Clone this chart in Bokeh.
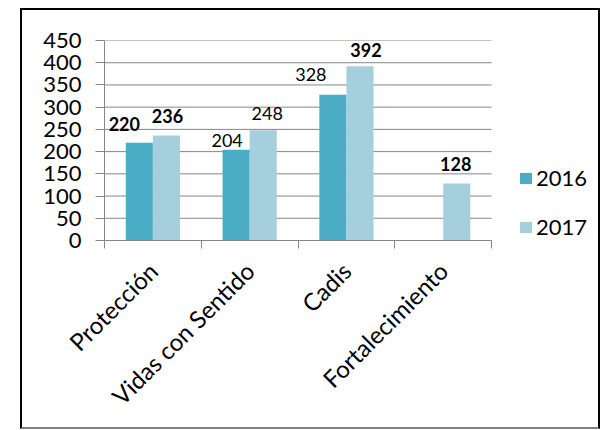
import math
from bokeh.plotting import figure
from bokeh.models import (Range1d, FixedTicker, ColumnDataSource, Legend,
                          LegendItem, LabelSet)
from bokeh.core.properties import value
from bokeh.embed import file_html
from bokeh.resources import INLINE

# ---------------- data ----------------
categories = ["Protección", "Vidas con Sentido", "Cadis", "Fortalecimiento"]
series_names = ["2016", "2017"]
values_2016 = [220, 204, 328, None]
values_2017 = [236, 248, 392, 128]
y_ticks = [0, 50, 100, 150, 200, 250, 300, 350, 400, 450]

# ---------------- styles ----------------
colors = ["#4BACC6", "#A6CFDD"]
label_style_2016 = ["bold", "normal", "normal", "normal"]
label_style_2017 = ["bold", "normal", "bold", "bold"]
label_dx_2016 = [-15, -9, -22, 0]
label_dx_2017 = [1, 4, 6, -1]
label_gap_2016 = [12, 3, 14, 0]
label_gap_2017 = [13, 10, 9, 13]
FONT = "Lato"
GREY = "#868686"
BAR_W = 0.28

# layout (pixels)
CANVAS_W, CANVAS_H = 576, 417
LEFT, TOP, BOTTOM = 82, 30, 191
PLOT_W = 384            # width of the category area
n = len(categories)
x_end = n * (CANVAS_W - LEFT) / PLOT_W   # frame extends right to hold the legend


def make_source(vals, styles, dxs, gaps, shift):
    rows = dict(x=[], top=[], text=[], style=[], dx=[], dy=[])
    for i, v in enumerate(vals):
        if v is None:
            continue
        rows["x"].append(i + 0.5 + shift)
        rows["top"].append(v)
        rows["text"].append(str(v))
        rows["style"].append(styles[i])
        rows["dx"].append(dxs[i])
        rows["dy"].append(gaps[i])
    return ColumnDataSource(rows)


src16 = make_source(values_2016, label_style_2016, label_dx_2016, label_gap_2016, -BAR_W / 2)
src17 = make_source(values_2017, label_style_2017, label_dx_2017, label_gap_2017, BAR_W / 2)

p = figure(width=CANVAS_W + 4, height=CANVAS_H + 4, output_backend="svg", toolbar_location=None,
           x_range=Range1d(0, x_end), y_range=Range1d(0, y_ticks[-1]),
           min_border_left=LEFT, min_border_right=0, min_border_top=TOP,
           min_border_bottom=BOTTOM)
p.styles = {"border": "2px solid #000000", "border-bottom-color": "#808080",
            "margin-left": "20px", "margin-top": "8px"}
p.outline_line_color = None
p.background_fill_color = "white"
p.border_fill_color = "white"

# horizontal grid lines, limited to the category area
p.segment(x0=0, x1=n, y0=y_ticks, y1=y_ticks, line_color=GREY, line_width=1)

r16 = p.vbar(x="x", top="top", width=BAR_W, source=src16, fill_color=colors[0], line_color=None)
r17 = p.vbar(x="x", top="top", width=BAR_W, source=src17, fill_color=colors[1], line_color=None)

for src in (src16, src17):
    lbl = LabelSet(x="x", y="top", text="text", source=src,
                   x_offset="dx", y_offset="dy",
                   text_align="center", text_baseline="alphabetic",
                   text_font=value(FONT), text_font_size="18px",
                   text_font_style="style", text_color="#000000")
    p.add_layout(lbl)

# y axis
p.yaxis.ticker = FixedTicker(ticks=y_ticks)
p.yaxis.axis_line_color = GREY
p.yaxis.major_tick_line_color = GREY
p.yaxis.major_tick_out = 9
p.yaxis.major_tick_in = 0
p.yaxis.minor_tick_line_color = None
p.yaxis.major_label_text_font = FONT
p.yaxis.major_label_text_font_size = "22px"
p.yaxis.major_label_text_color = "#000000"
p.yaxis.major_label_standoff = 14

# x axis
centers = [i + 0.5 for i in range(n)]
bounds = [float(i) for i in range(n + 1)]
p.xaxis.ticker = FixedTicker(ticks=centers, minor_ticks=bounds)
p.xaxis.major_label_overrides = {c: name for c, name in zip(centers, categories)}
p.xaxis.bounds = (0, n)
p.xaxis.axis_line_color = GREY
p.xaxis.major_tick_line_color = None
p.xaxis.minor_tick_line_color = GREY
p.xaxis.minor_tick_out = 8
p.xaxis.minor_tick_in = 0
p.xaxis.major_label_orientation = math.pi / 4
p.xaxis.major_label_text_font = FONT
p.xaxis.major_label_text_font_size = "24px"
p.xaxis.major_label_text_color = "#000000"
p.xaxis.major_label_standoff = 18

p.xgrid.grid_line_color = None
p.ygrid.grid_line_color = None

legend = Legend(items=[LegendItem(label=series_names[0], renderers=[r16]),
                       LegendItem(label=series_names[1], renderers=[r17])],
                location=(414, 0), orientation="vertical",
                glyph_width=15, glyph_height=14, label_standoff=3,
                spacing=22, padding=0, margin=0,
                border_line_color=None, background_fill_alpha=0,
                label_text_font=FONT, label_text_font_size="22px",
                label_text_color="#000000")
p.add_layout(legend)

open("out.html", "w").write(file_html(p, INLINE))
